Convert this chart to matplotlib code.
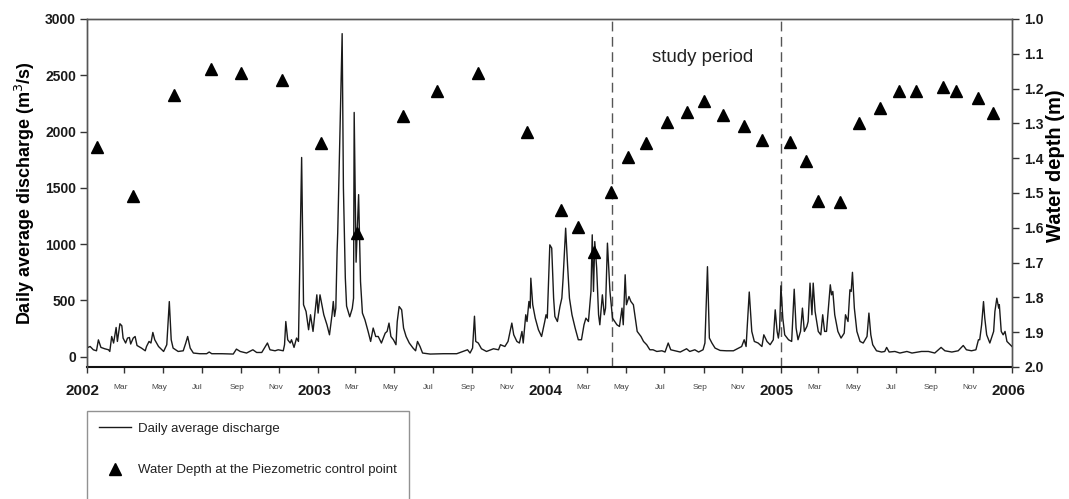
import matplotlib
matplotlib.use("Agg")
import matplotlib.pyplot as plt
import matplotlib.transforms as mtransforms
from matplotlib.lines import Line2D
import pandas as pd

plt.rcParams['font.family'] = ['Liberation Sans', 'DejaVu Sans']

START = pd.Timestamp('2002-01-01')

# Daily average discharge (m3/s): vertices, day = days since 2002-01-01
q_day = [0, 5, 10, 15, 18, 22, 28, 34, 36, 39, 42, 46, 48, 52, 55, 57, 61, 64, 67, 69, 73, 76, 79, 86, 92, 94,
         98, 101, 104, 107, 113, 121, 126, 130, 133, 136, 144, 152, 156, 159, 163, 168, 178, 189, 193, 197, 213,
         231, 236, 242, 252, 262, 268, 276, 285, 289, 297, 302, 310, 312, 314, 317, 321, 323, 327, 331, 334, 339,
         342, 346, 350, 353, 357, 363, 365, 368, 371, 374, 379, 383, 387, 389, 391, 393, 395, 396, 403, 405, 408,
         410, 415, 419, 421, 422, 425, 429, 432, 435, 439, 444, 448, 452, 456, 460, 465, 471, 474, 477, 480, 484,
         488, 490, 493, 497, 500, 504, 509, 515, 519, 522, 526, 530, 542, 563, 584, 594, 601, 605, 609, 612, 614,
         618, 623, 631, 642, 650, 653, 660, 665, 671, 674, 679, 683, 687, 689, 693, 695, 698, 700, 701, 704, 708,
         713, 718, 723, 725, 727, 730, 731, 734, 737, 739, 743, 747, 750, 752, 756, 759, 762, 766, 771, 776, 781,
         785, 788, 792, 796, 798, 800, 802, 805, 808, 810, 814, 817, 819, 822, 826, 830, 837, 841, 845, 847, 850,
         852, 856, 859, 863, 866, 869, 875, 879, 884, 889, 894, 900, 908, 913, 918, 922, 929, 937, 947, 952, 960,
         966, 973, 976, 980, 983, 987, 992, 1000, 1010, 1021, 1029, 1034, 1038, 1041, 1046, 1050, 1054, 1060, 1066,
         1069, 1074, 1079, 1084, 1087, 1090, 1092, 1094, 1096, 1099, 1102, 1108, 1113, 1117, 1120, 1123, 1127, 1130,
         1133, 1137, 1139, 1142, 1145, 1147, 1150, 1155, 1159, 1162, 1165, 1168, 1171, 1174, 1176, 1178, 1181, 1186,
         1191, 1196, 1198, 1202, 1205, 1207, 1209, 1212, 1216, 1221, 1226, 1232, 1235, 1238, 1241, 1247, 1255, 1260,
         1263, 1267, 1276, 1284, 1295, 1303, 1318, 1329, 1339, 1349, 1355, 1366, 1376, 1384, 1389, 1397, 1404, 1408,
         1410, 1413, 1416, 1418, 1421, 1426, 1432, 1434, 1437, 1440, 1441, 1444, 1447, 1450, 1453, 1458, 1461]
q_val = [80, 91, 62, 53, 150, 83, 71, 62, 47, 180, 122, 260, 136, 293, 275, 166, 122, 166, 171, 113, 166, 180, 100, 77, 53, 91,
         136, 122, 216, 151, 91, 47, 107, 490, 151, 77, 47, 53, 122, 180, 77, 33, 27, 27, 42, 27, 27,
         24, 68, 47, 33, 62, 38, 38, 122, 62, 53, 62, 53, 107, 313, 151, 122, 151, 83, 166, 136, 1770,
         462, 402, 240, 373, 225, 550, 388, 550, 462, 373, 284, 195, 373, 491, 358, 432, 935, 1100, 2870, 1500, 700,
         450, 355, 430, 520, 2170, 840, 1440, 668, 388, 328, 225, 136, 255, 180, 180, 122, 210, 225, 299, 180, 151,
         107, 313, 446, 417, 255, 180, 122, 77, 53, 136, 91, 33, 24, 27, 27, 47, 62, 33, 77, 360, 136,
         122, 71, 47, 71, 62, 107, 91, 136, 299, 195, 136, 122, 225, 122, 373, 313, 491, 432, 698, 462, 343,
         240, 180, 313, 373, 343, 846, 994, 965, 521, 358, 313, 446, 521, 698, 1142, 817, 521, 373, 255, 151, 151,
         284, 343, 313, 580, 1083, 580, 1023, 787, 373, 284, 550, 373, 432, 1009, 580, 343, 284, 269, 432, 284, 728,
         462, 535, 491, 462, 343, 225, 180, 136, 107, 62, 62, 47, 53, 42, 122, 62, 53, 42, 71, 47, 62,
         42, 62, 122, 800, 166, 122, 77, 56, 53, 53, 77, 91, 151, 91, 575, 225, 136, 122, 91,
         195, 136, 107, 151, 417, 225, 166, 255, 630, 343, 195, 151, 136, 600, 255, 151, 225, 432,
         225, 269, 313, 654, 373, 654, 402, 225, 195, 373, 225, 225, 432, 639, 550, 580, 373, 225,
         166, 210, 373, 313, 595, 580, 750, 432, 225, 136, 122, 180, 388, 195, 107, 53, 42, 47,
         83, 42, 47, 33, 47, 33, 47, 47, 33, 83, 53, 42, 53, 100, 62, 53, 62, 151,
         151, 284, 490, 343, 195, 122, 225, 402, 520, 432, 462, 225, 195, 225, 136, 107, 91]

# Water depth at the piezometric control point (m)
wd_day = [16, 72, 138, 196, 243, 308, 370, 426, 499, 553, 618, 695, 749, 776, 801, 827, 855, 883, 916, 947, 975,
          1004, 1037, 1066, 1110, 1136, 1155, 1189, 1220, 1253, 1282, 1309, 1352, 1373, 1408, 1431]
wd_val = [1.367, 1.509, 1.218, 1.145, 1.154, 1.175, 1.357, 1.615, 1.278, 1.206, 1.154, 1.326, 1.549, 1.599, 1.670,
          1.497, 1.397, 1.357, 1.297, 1.267, 1.236, 1.277, 1.307, 1.348, 1.353, 1.407, 1.523, 1.526, 1.298, 1.257,
          1.206, 1.206, 1.196, 1.206, 1.228, 1.269]

study_period = ['2004-04-10', '2005-01-01']
tick_dates = ['2002-01-01', '2002-03-01', '2002-05-01', '2002-07-01', '2002-09-01', '2002-11-01',
              '2003-01-01', '2003-03-01', '2003-05-01', '2003-07-01', '2003-09-01', '2003-11-01',
              '2004-01-01', '2004-03-01', '2004-05-01', '2004-07-01', '2004-09-01', '2004-11-01',
              '2005-01-01', '2005-03-01', '2005-05-01', '2005-07-01', '2005-09-01', '2005-11-01',
              '2006-01-01']
tick_labels = ['2002', 'Mar', 'May', 'Jul', 'Sep', 'Nov', '2003', 'Mar', 'May', 'Jul', 'Sep', 'Nov',
               '2004', 'Mar', 'May', 'Jul', 'Sep', 'Nov', '2005', 'Mar', 'May', 'Jul', 'Sep', 'Nov', '2006']
left_ticks = [0, 500, 1000, 1500, 2000, 2500, 3000]
right_ticks = [1.0, 1.1, 1.2, 1.3, 1.4, 1.5, 1.6, 1.7, 1.8, 1.9, 2.0]

q_dates = START + pd.to_timedelta(q_day, unit='D')
wd_dates = START + pd.to_timedelta(wd_day, unit='D')

W, H = 1069, 499
fig = plt.figure(figsize=(W / 100, H / 100), dpi=100)
ax = fig.add_axes([87 / W, 1 - 367 / H, (1012 - 87) / W, (367 - 19) / H])
ax2 = ax.twinx()

line, = ax.plot(q_dates, q_val, color='#1a1a1a', lw=1.0, zorder=3)
tri, = ax2.plot(wd_dates, wd_val, linestyle='none', marker='^', ms=8.5, color='black', zorder=4)

for d in study_period:
    ax.axvline(pd.Timestamp(d), color='#555555', lw=1.0, dashes=(7, 4), zorder=2)

ax.set_xlim(pd.Timestamp('2002-01-01'), pd.Timestamp('2006-01-01'))
ax.set_ylim(-91, 3000)
ax2.set_ylim(2.0, 1.0)

ax.tick_params(axis='x', direction='out', length=4, width=1, pad=8, colors='#333333')
ax.tick_params(axis='y', direction='out', length=5, width=1, pad=3, colors='#333333')
ax2.tick_params(axis='y', direction='out', length=5, width=1, pad=4, colors='#333333')

ax.set_yticks(left_ticks)
ax.set_yticklabels([str(v) for v in left_ticks], fontsize=10, fontweight='bold', color='#1a1a1a')
ax2.set_yticks(right_ticks)
ax2.set_yticklabels([f'{v:.1f}' for v in right_ticks], fontsize=10, fontweight='bold', color='#1a1a1a')

ax.set_xticks(pd.to_datetime(tick_dates))
ax.set_xticklabels(tick_labels)
shift = mtransforms.ScaledTranslation(-4 / 100, 0, fig.dpi_scale_trans)
for tick in ax.xaxis.get_major_ticks():
    lab = tick.label1
    if lab.get_text().isdigit():
        lab.set_fontsize(11)
        lab.set_fontweight('bold')
        lab.set_color('#1a1a1a')
    else:
        lab.set_fontsize(6)
        lab.set_color('#444444')
    lab.set_transform(lab.get_transform() + shift)

for a in (ax, ax2):
    for s in a.spines.values():
        s.set_color('#555555')
        s.set_linewidth(1.0)
ax.spines['bottom'].set_color('#111111')
ax.spines['bottom'].set_linewidth(1.5)
ax2.spines['bottom'].set_visible(False)

ax.set_ylabel('Daily average discharge (m$^3$/s)', fontsize=13, fontweight='bold')
ax.yaxis.set_label_coords(-50 / (1012 - 87), 0.5)
ax2.set_ylabel('Water depth (m)', fontsize=14.5, fontweight='bold', rotation=90)
ax2.yaxis.set_label_coords(1 + 34 / (1012 - 87), 0.5 + 27 / (367 - 19))

ax.text(pd.Timestamp('2004-08-30'), 2660, 'study period', fontsize=13.4, ha='center', va='center', color='#222222')

blank = Line2D([], [], linestyle='none')
leg = fig.legend([line, tri, blank], ['Daily average discharge', 'Water Depth at the Piezometric control point', ''],
                 loc='upper left', bbox_to_anchor=(87 / W, 1 - 411 / H), bbox_transform=fig.transFigure,
                 fontsize=9.5, frameon=True, fancybox=False, edgecolor='#777777', borderpad=0.9,
                 handlelength=2.4, handletextpad=0.55, labelspacing=2.2, borderaxespad=0, numpoints=1)
leg.get_frame().set_linewidth(1.0)
for t in leg.get_texts():
    t.set_color('#222222')

fig.savefig('out.png', dpi=100)
